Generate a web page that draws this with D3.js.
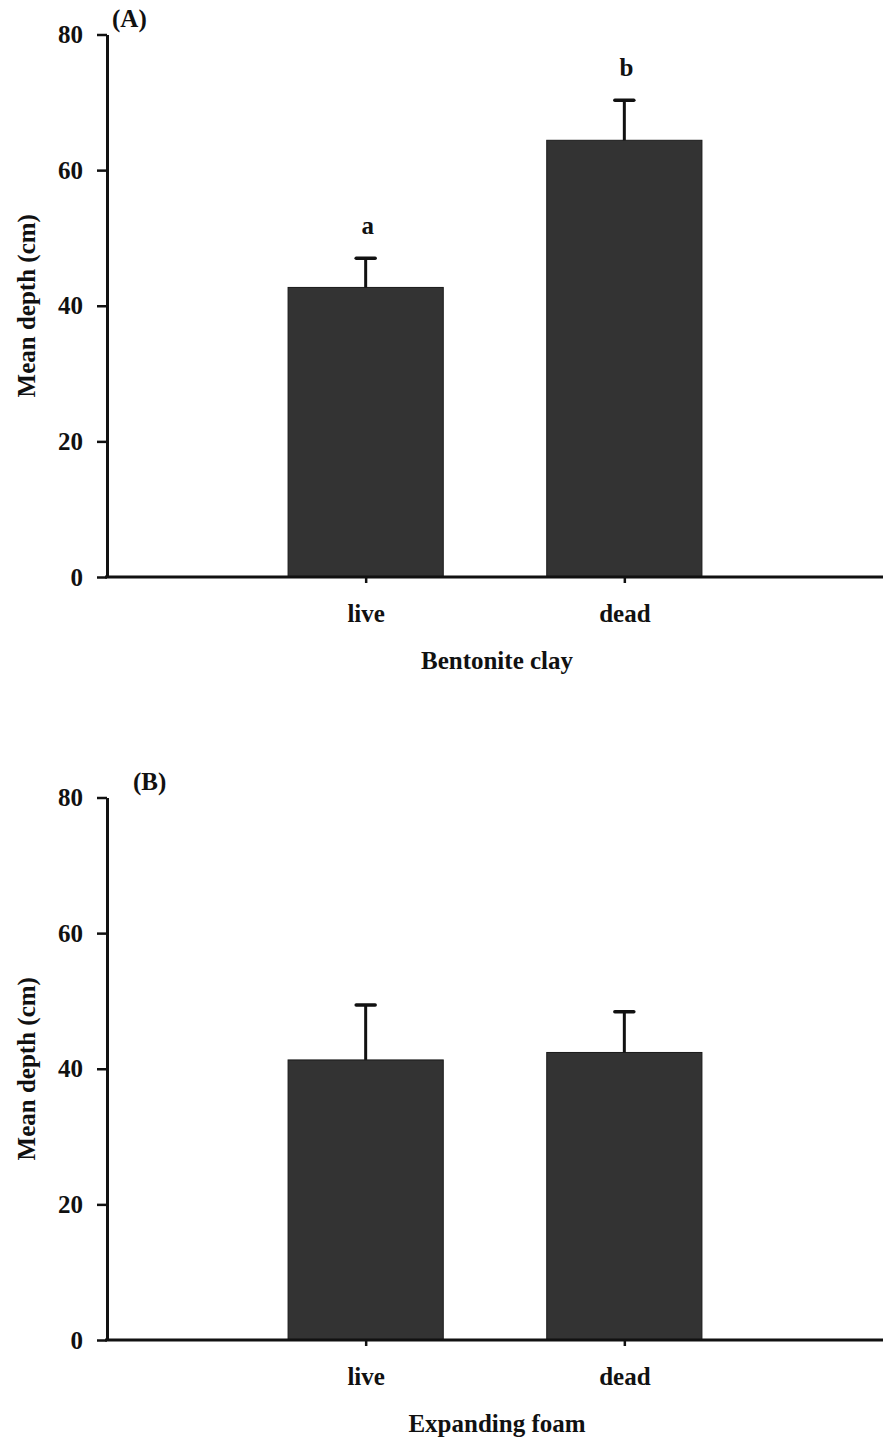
<!DOCTYPE html>
<html>
<head>
<meta charset="utf-8">
<script src="https://cdn.jsdelivr.net/npm/d3@7"></script>
<style>
  body { margin: 0; background: #fff; }
  text { font-family: "Liberation Serif", "Times New Roman", serif; font-weight: bold; fill: #111; }
</style>
</head>
<body>
<div id="chart"></div>
<script>
// Data
const categories = ['live', 'dead'];
const clayMeans = [42.7, 64.4];
const clayErrors = [4.3, 5.9];
const clayLetters = ['a', 'b'];
const foamMeans = [41.3, 42.4];
const foamErrors = [8.1, 6.0];
const yTicks = [0, 20, 40, 60, 80];

const panels = [
  { tag: '(A)', xTitle: 'Bentonite clay', means: clayMeans, errors: clayErrors, letters: clayLetters, top: 34.5, tagX: 112 },
  { tag: '(B)', xTitle: 'Expanding foam', means: foamMeans, errors: foamErrors, letters: null, top: 797.5, tagX: 133 }
];

const width = 885, height = 1438;
const left = 107, right = 883;
const plotH = 542.5;

const svg = d3.select('#chart').append('svg')
  .attr('width', width)
  .attr('height', height);

panels.forEach(p => {
  const g = svg.append('g').attr('transform', `translate(0,${p.top})`);

  const x = d3.scalePoint()
    .domain(categories)
    .range([left, right])
    .padding(1);

  const y = d3.scaleLinear()
    .domain([0, 80])
    .range([plotH, 0]);

  const barW = (right - left) * 0.2;
  const rows = categories.map((c, i) => ({ cat: c, mean: p.means[i], err: p.errors[i], letter: p.letters ? p.letters[i] : null }));

  // Bars
  g.selectAll('.bar')
    .data(rows)
    .enter()
    .append('rect')
    .attr('x', d => x(d.cat) - barW / 2)
    .attr('y', d => y(d.mean))
    .attr('width', barW)
    .attr('height', d => y(0) - y(d.mean))
    .attr('fill', '#333333')
    .attr('stroke', '#1a1a1a')
    .attr('stroke-width', 1);

  // Error bars (upper only)
  g.selectAll('.err')
    .data(rows)
    .enter()
    .append('line')
    .attr('x1', d => x(d.cat))
    .attr('x2', d => x(d.cat))
    .attr('y1', d => y(d.mean))
    .attr('y2', d => y(d.mean + d.err))
    .attr('stroke', '#111')
    .attr('stroke-width', 3);

  g.selectAll('.cap')
    .data(rows)
    .enter()
    .append('line')
    .attr('x1', d => x(d.cat) - 9.5)
    .attr('x2', d => x(d.cat) + 9.5)
    .attr('y1', d => y(d.mean + d.err))
    .attr('y2', d => y(d.mean + d.err))
    .attr('stroke', '#111')
    .attr('stroke-width', 3.5)
    .attr('stroke-linecap', 'round');

  // Significance letters
  if (p.letters) {
    g.selectAll('.letter')
      .data(rows)
      .enter()
      .append('text')
      .attr('x', d => x(d.cat) + 2)
      .attr('y', d => y(d.mean + d.err) - 24)
      .attr('text-anchor', 'middle')
      .attr('font-size', '25px')
      .text(d => d.letter);
  }

  // Y axis
  const yAxis = g.append('g')
    .attr('transform', `translate(${left},0)`)
    .call(d3.axisLeft(y).tickValues(yTicks).tickSize(10).tickSizeOuter(0).tickPadding(14));

  yAxis.selectAll('text')
    .attr('font-size', '25px')
    .attr('font-family', '"Liberation Serif", serif')
    .attr('fill', '#111');
  yAxis.selectAll('line').attr('stroke', '#111').attr('stroke-width', 2.5);
  yAxis.select('.domain').attr('stroke', '#111').attr('stroke-width', 3);

  // X axis
  const xAxis = g.append('g')
    .attr('transform', `translate(0,${plotH})`)
    .call(d3.axisBottom(x).tickSize(6).tickSizeOuter(0).tickPadding(21));

  xAxis.selectAll('text')
    .attr('font-size', '25px')
    .attr('font-family', '"Liberation Serif", serif')
    .attr('fill', '#111');
  xAxis.selectAll('line').attr('stroke', '#111').attr('stroke-width', 2.5);
  xAxis.select('.domain')
    .attr('d', `M${left - 2},0H${right}`)
    .attr('stroke', '#111')
    .attr('stroke-width', 3);

  // Axis titles
  g.append('text')
    .attr('transform', `translate(35,${plotH / 2}) rotate(-90)`)
    .attr('text-anchor', 'middle')
    .attr('font-size', '25px')
    .text('Mean depth (cm)');

  g.append('text')
    .attr('x', 497)
    .attr('y', plotH + 92)
    .attr('text-anchor', 'middle')
    .attr('font-size', '25px')
    .text(p.xTitle);

  // Panel tag
  g.append('text')
    .attr('x', p.tagX)
    .attr('y', -8)
    .attr('font-size', '25px')
    .text(p.tag);
});
</script>
</body>
</html>
